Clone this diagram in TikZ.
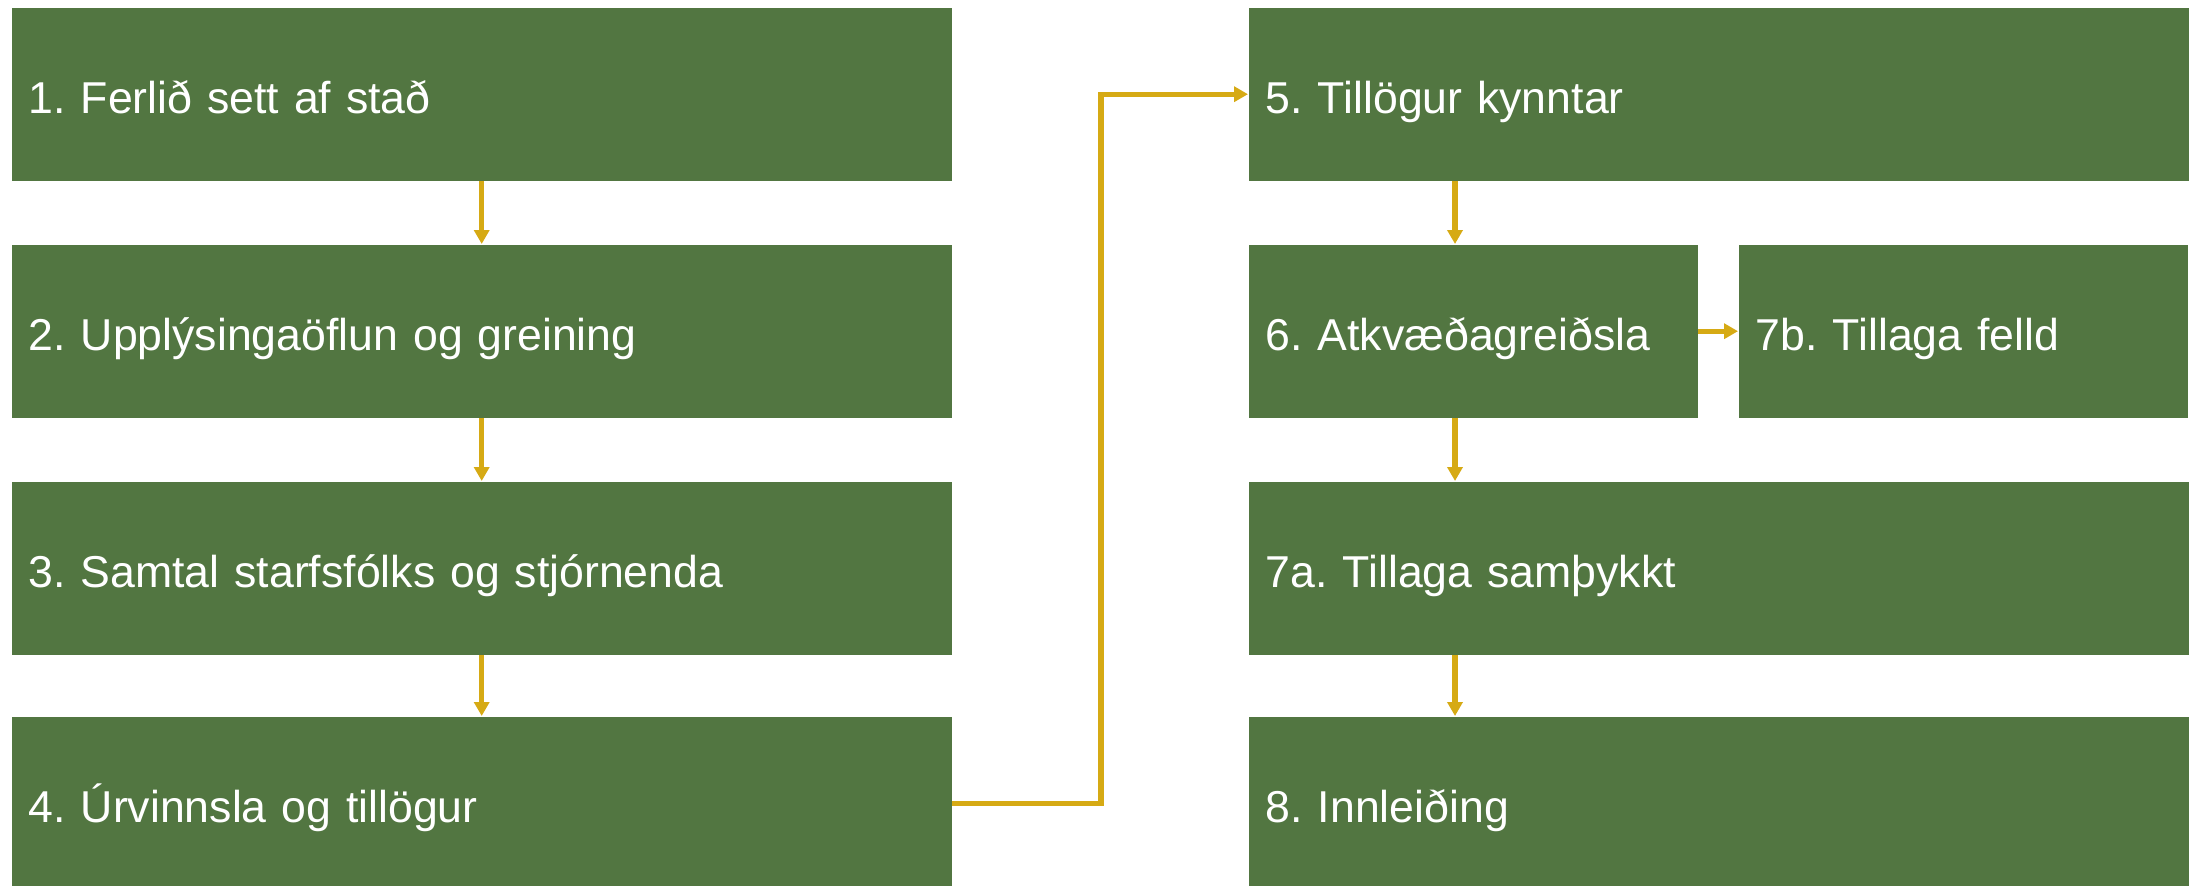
\documentclass[tikz,border=0pt]{standalone}
\usepackage{fontspec}
\setmainfont{Liberation Sans}
\frenchspacing
\usetikzlibrary{arrows.meta}
\definecolor{stagegreen}{RGB}{82,118,65}
\definecolor{flowgold}{RGB}{214,170,20}
\begin{document}
\begin{tikzpicture}[
	stage/.style={shape=rectangle,fill=stagegreen,text=white,anchor=north west,minimum height=1.73cm,inner xsep=0.17cm,align=left,text height=11pt,text depth=0.3pt,font=\fontsize{12.7}{15}\selectfont},
	wide/.style={stage,minimum width=9.40cm,text width=9.06cm},
	half/.style={stage,minimum width=4.49cm,text width=4.15cm},
	flow/.style={draw=flowgold,line width=1.5pt,-{Triangle[length=1.4mm,width=1.5mm]}}]
	\useasboundingbox (0,0) rectangle (21.93,-8.86);
	\node[wide] (s1)  at (0.11, -0.07)  {1. Ferlið sett af stað};
	\node[wide] (s2)  at (0.11, -2.44)  {2. Upplýsingaöflun og greining};
	\node[wide] (s3)  at (0.11, -4.81)  {3. Samtal starfsfólks og stjórnenda};
	\node[wide] (s4)  at (0.11, -7.16)  {4. Úrvinnsla og tillögur};
	\node[wide] (s5)  at (12.48, -0.07) {5. Tillögur kynntar};
	\node[half] (s6)  at (12.48, -2.44) {6. Atkvæðagreiðsla};
	\node[half] (s7b) at (17.38, -2.44) {7b. Tillaga felld};
	\node[wide] (s7a) at (12.48, -4.81) {7a. Tillaga samþykkt};
	\node[wide] (s8)  at (12.48, -7.16) {8. Innleiðing};
	\coordinate (jog) at (11.01, -4);
	\coordinate (spine) at (14.55, -4);
	\draw[flow] (s1.south) -- (s2.north);
	\draw[flow] (s2.south) -- (s3.north);
	\draw[flow] (s3.south) -- (s4.north);
	\draw[flow] (s4.east) -- (s4.east -| jog) |- (s5.west);
	\draw[flow] (spine |- s5.south) -- (spine |- s6.north);
	\draw[flow] (s6.east) -- (s7b.west);
	\draw[flow] (spine |- s6.south) -- (spine |- s7a.north);
	\draw[flow] (spine |- s7a.south) -- (spine |- s8.north);
\end{tikzpicture}
\end{document}
